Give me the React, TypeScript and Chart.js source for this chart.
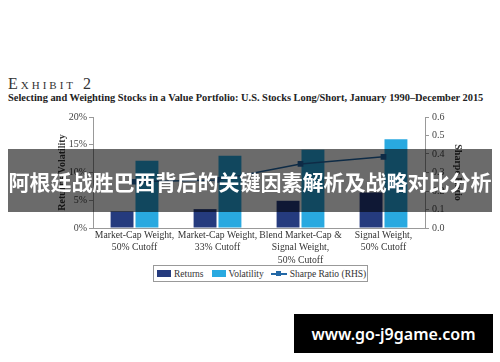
import React, { useEffect, useRef } from "react";
import { Chart, registerables } from "chart.js";

Chart.register(...registerables);

const categories: string[][] = [
  ["Market-Cap Weight,", "50% Cutoff"],
  ["Market-Cap Weight,", "33% Cutoff"],
  ["Blend Market-Cap &", "Signal Weight,", "50% Cutoff"],
  ["Signal Weight,", "50% Cutoff"],
];
const returnsValues = [3.0, 3.4, 4.9, 6.4];
const volatilityValues = [12.1, 13.0, 14.1, 16.0];
const sharpeValues = [0.25, 0.26, 0.346, 0.385];
const leftTicks = [0, 5, 10, 15, 20];
const rightTicks = [0, 0.1, 0.2, 0.3, 0.4, 0.5, 0.6];

const SERIF = "'Liberation Serif', 'DejaVu Serif', serif";
const NAVY = "#253b7e";
const LIGHT = "#29a9e0";
const LINE = "#2368a6";

export default function App() {
  const ref = useRef<HTMLCanvasElement | null>(null);

  useEffect(() => {
    if (!ref.current) return;
    const chart = new Chart(ref.current, {
      type: "bar",
      data: {
        labels: categories,
        datasets: [
          {
            type: "line",
            label: "Sharpe Ratio (RHS)",
            data: sharpeValues,
            yAxisID: "y1",
            borderColor: LINE,
            backgroundColor: LINE,
            borderWidth: 1.5,
            pointStyle: "rect",
            pointRadius: 3,
            order: 0,
          } as any,
          {
            label: "Returns",
            data: returnsValues,
            backgroundColor: NAVY,
            yAxisID: "y",
            categoryPercentage: 0.6,
            barPercentage: 0.92,
            order: 1,
          },
          {
            label: "Volatility",
            data: volatilityValues,
            backgroundColor: LIGHT,
            yAxisID: "y",
            categoryPercentage: 0.6,
            barPercentage: 0.92,
            order: 1,
          },
        ],
      },
      options: {
        animation: false,
        responsive: false,
        maintainAspectRatio: false,
        layout: { padding: { top: 12, left: 0, right: 0, bottom: 0 } },
        plugins: { legend: { display: false }, tooltip: { enabled: false } },
        scales: {
          x: {
            grid: { display: false, drawTicks: false },
            border: { display: true, color: "#999" },
            ticks: {
              font: { family: SERIF, size: 9.7, lineHeight: 1.3 },
              color: "#333",
              padding: 1,
              maxRotation: 0,
              autoSkip: false,
            },
            afterFit: (s: any) => {
              s.height = 37;
            },
          },
          y: {
            position: "left",
            min: 0,
            max: 20,
            afterBuildTicks: (s: any) => {
              s.ticks = leftTicks.map((v) => ({ value: v }));
            },
            grid: { drawOnChartArea: false, drawTicks: true, tickLength: 4, color: "#999" },
            border: { display: true, color: "#999" },
            ticks: {
              font: { family: SERIF, size: 10 },
              color: "#444",
              padding: 2,
              callback: (v: any) => `${v}%`,
            },
            title: {
              display: true,
              text: "Returns/Volatility",
              font: { family: SERIF, size: 10, weight: "bold" },
              color: "#333",
              padding: { top: 56, bottom: 0 },
            },
            afterFit: (s: any) => {
              s.width = 93;
            },
          },
          y1: {
            position: "right",
            min: 0,
            max: 0.6,
            afterBuildTicks: (s: any) => {
              s.ticks = rightTicks.map((v) => ({ value: v }));
            },
            grid: { drawOnChartArea: false, drawTicks: true, tickLength: 4, color: "#999" },
            border: { display: true, color: "#999" },
            ticks: {
              font: { family: SERIF, size: 10 },
              color: "#444",
              padding: 3,
              callback: (v: any) => Number(v).toFixed(1),
            },
            title: {
              display: true,
              text: "Sharpe Ratio",
              font: { family: SERIF, size: 10, weight: "bold" },
              color: "#333",
              padding: { top: 36, bottom: 0 },
            },
            afterFit: (s: any) => {
              s.width = 75;
            },
          },
        },
      },
    });
    return () => chart.destroy();
  }, []);

  const legendText: React.CSSProperties = { fontFamily: SERIF, fontSize: 9.5, color: "#333", whiteSpace: "nowrap" };

  return (
    <div style={{ position: "fixed", left: 0, top: 0, width: 500, height: 362, background: "#fff", overflow: "hidden" }}>
      <div style={{ position: "absolute", left: 8, top: 75, fontFamily: SERIF, fontSize: 16, fontVariant: "small-caps", letterSpacing: 3, color: "#333", whiteSpace: "nowrap" }}>
        Exhibit 2
      </div>
      <div style={{ position: "absolute", left: 8, top: 92, fontFamily: SERIF, fontSize: 10.4, fontWeight: "bold", color: "#222", whiteSpace: "nowrap" }}>
        Selecting and Weighting Stocks in a Value Portfolio: U.S. Stocks Long/Short, January 1990–December 2015
      </div>
      <canvas ref={ref} width={500} height={160} style={{ position: "absolute", left: 0, top: 105, width: 500, height: 160 }} />
      <div style={{ position: "absolute", left: 153, top: 265, width: 213, height: 15, border: "1px solid #999", display: "flex", alignItems: "center", boxSizing: "content-box", whiteSpace: "nowrap" }}>
        <span style={{ display: "inline-block", width: 14, height: 7, background: NAVY, marginLeft: 3, flex: "none" }} />
        <span style={{ ...legendText, marginLeft: 3 }}>Returns</span>
        <span style={{ display: "inline-block", width: 14, height: 7, background: LIGHT, marginLeft: 8, flex: "none" }} />
        <span style={{ ...legendText, marginLeft: 3 }}>Volatility</span>
        <span style={{ position: "relative", display: "inline-block", width: 16, height: 7, marginLeft: 7, flex: "none" }}>
          <span style={{ position: "absolute", left: 0, top: 3, width: 16, height: 1.5, background: LINE }} />
          <span style={{ position: "absolute", left: 5, top: 1, width: 5, height: 5, background: LINE }} />
        </span>
        <span style={{ ...legendText, marginLeft: 3 }}>Sharpe Ratio (RHS)</span>
      </div>
      <div style={{ position: "absolute", left: 8, top: 149, width: 484, height: 63, background: "rgba(0,0,0,0.58)", display: "flex", alignItems: "center", justifyContent: "center" }}>
        <span style={{ fontFamily: "'Noto Sans CJK SC', sans-serif", fontWeight: "bold", fontSize: 21, color: "#fff", whiteSpace: "nowrap" }}>
          阿根廷战胜巴西背后的关键因素解析及战略对比分析
        </span>
      </div>
      <div style={{ position: "absolute", left: 294, top: 314, width: 199, height: 39, background: "#000", display: "flex", alignItems: "center", justifyContent: "center" }}>
        <span style={{ fontFamily: "'Noto Sans', 'DejaVu Sans', sans-serif", fontWeight: 600, fontSize: 16, color: "#fff", whiteSpace: "nowrap" }}>
          www.go-j9game.com
        </span>
      </div>
    </div>
  );
}
